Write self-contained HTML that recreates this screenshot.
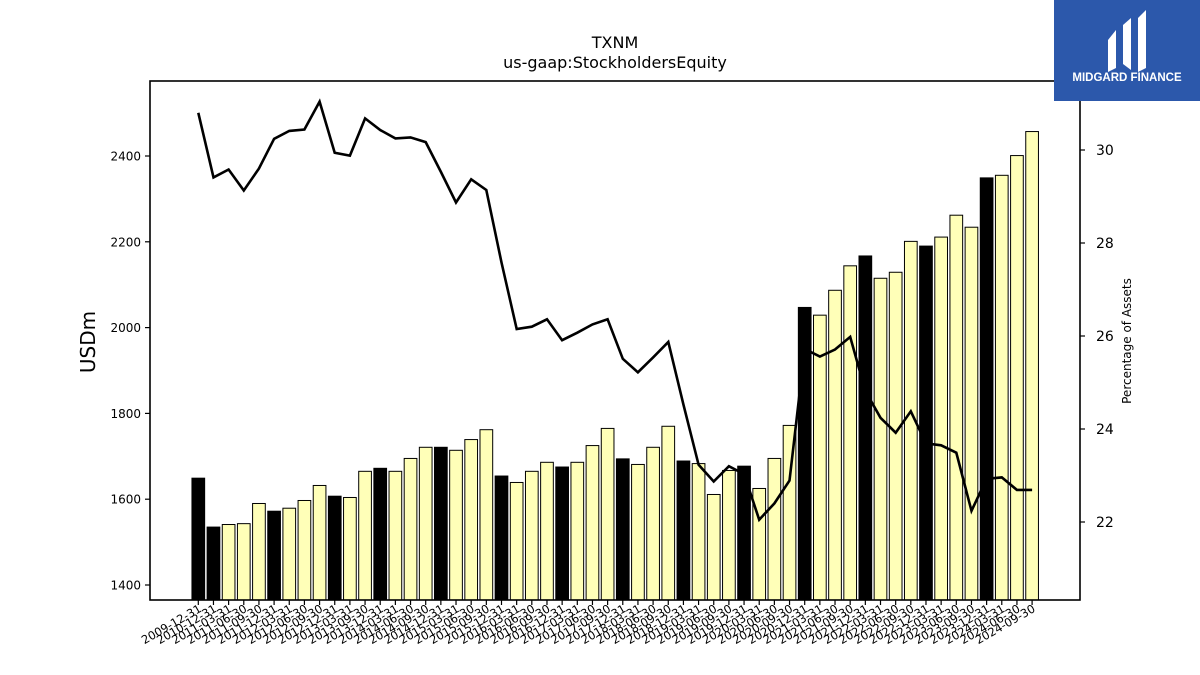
<!DOCTYPE html>
<html><head><meta charset="utf-8"><style>
html,body{margin:0;padding:0;background:#fff;}
svg{display:block;font-family:"DejaVu Sans","Liberation Sans",sans-serif;}
</style></head><body>
<svg id="chart" width="1200" height="675" viewBox="0 0 1200 675">
  <text x="615" y="48" text-anchor="middle" font-size="16">TXNM</text>
  <text x="615" y="68" text-anchor="middle" font-size="16">us-gaap:StockholdersEquity</text>
  <g id="bars"></g>
  <g id="line"></g>
  <rect x="150" y="81" width="930" height="519" fill="none" stroke="#000" stroke-width="1.6"/>
  <g id="yleft"></g>
  <g id="yright"></g>
  <g id="xaxis"></g>
  <text transform="translate(95,342) rotate(-90)" text-anchor="middle" font-size="20">USDm</text>
  <text transform="translate(1131,341) rotate(-90)" text-anchor="middle" font-size="12">Percentage of Assets</text>
  <g>
    <rect x="1054" y="0" width="146" height="101" fill="#2c58ab"/>
    <path d="M1108 40 L1116 30 L1116 68 L1108 72 Z" fill="#fff"/>
    <path d="M1123 25 L1131 18 L1131 70 L1123 64 Z" fill="#fff"/>
    <path d="M1138 18 L1146 10 L1146 68 L1138 72 Z" fill="#fff"/>
    <text x="1127" y="81" text-anchor="middle" font-size="11.5" font-weight="bold" fill="#fff" font-family="Liberation Sans, sans-serif">MIDGARD FINANCE</text>
  </g>
</svg>
<script>
const labels = ["2009-12-31","2010-12-31","2011-03-31","2011-06-30","2011-09-30","2011-12-31","2012-03-31","2012-06-30","2012-09-30","2012-12-31","2013-03-31","2013-09-30","2013-12-31","2014-03-31","2014-06-30","2014-09-30","2014-12-31","2015-03-31","2015-06-30","2015-09-30","2015-12-31","2016-03-31","2016-06-30","2016-09-30","2016-12-31","2017-03-31","2017-06-30","2017-09-30","2017-12-31","2018-03-31","2018-06-30","2018-09-30","2018-12-31","2019-03-31","2019-06-30","2019-09-30","2019-12-31","2020-03-31","2020-06-30","2020-09-30","2020-12-31","2021-03-31","2021-06-30","2021-09-30","2021-12-31","2022-03-31","2022-06-30","2022-09-30","2022-12-31","2023-03-31","2023-06-30","2023-09-30","2023-12-31","2024-03-31","2024-06-30","2024-09-30"];
const equity = [1649,1535,1541,1543,1590,1572,1579,1597,1632,1607,1604,1665,1672,1665,1695,1721,1721,1714,1739,1762,1654,1639,1665,1686,1675,1686,1725,1765,1694,1681,1721,1770,1689,1683,1611,1667,1677,1625,1695,1772,2047,2029,2087,2144,2167,2115,2129,2201,2190,2211,2262,2234,2349,2355,2401,2457];
const annual = [1,1,0,0,0,1,0,0,0,1,0,0,1,0,0,0,1,0,0,0,1,0,0,0,1,0,0,0,1,0,0,0,1,0,0,0,1,0,0,0,1,0,0,0,1,0,0,0,1,0,0,0,1,0,0,0];
const pctAssets = [30.80,29.41,29.58,29.13,29.60,30.24,30.41,30.44,31.04,29.94,29.88,30.68,30.43,30.25,30.27,30.17,29.53,28.87,29.37,29.14,27.58,26.15,26.20,26.36,25.91,26.07,26.25,26.36,25.51,25.22,25.54,25.87,24.53,23.23,22.87,23.20,23.03,22.05,22.40,22.89,25.72,25.56,25.71,25.98,24.82,24.24,23.92,24.38,23.69,23.65,23.49,22.24,22.93,22.96,22.69,22.69];
const leftTicks = [1400,1600,1800,2000,2200,2400];
const rightTicks = [22,24,26,28,30];

const NS="http://www.w3.org/2000/svg";
const x0=198.3, step=15.16, bw=12.7, base=600;
const xs = i => x0 + i*step;
const yL = v => 585 - (v-1400)*429/1000;
const yR = p => 522 - (p-22)*46.5;
function mk(tag, attrs, parent){const e=document.createElementNS(NS,tag);for(const k in attrs)e.setAttribute(k,attrs[k]);parent.appendChild(e);return e;}

const gb=document.getElementById('bars');
equity.forEach((v,i)=>{
  const t=yL(v);
  const r=mk('rect',{x:xs(i)-bw/2,y:t,width:bw,height:base-t,fill:annual[i]?'#000':'#ffffb8',stroke:'#000','stroke-width':1},gb);
  
  
});
const gl=document.getElementById('line');
const pl=mk('polyline',{points:pctAssets.map((p,i)=>xs(i).toFixed(1)+','+yR(p).toFixed(1)).join(' '),fill:'none',stroke:'#000','stroke-width':2.6,'stroke-linejoin':'miter'},gl);



const gy=document.getElementById('yleft');
leftTicks.forEach(v=>{
  const y=yL(v);
  mk('line',{x1:145,x2:150,y1:y,y2:y,stroke:'#000','stroke-width':1.2},gy);
  const t=mk('text',{x:141,y:y+4.5,'text-anchor':'end','font-size':12},gy);
  t.textContent=v;
  
  
});
const gr=document.getElementById('yright');
rightTicks.forEach(p=>{
  const y=yR(p);
  mk('line',{x1:1080,x2:1085,y1:y,y2:y,stroke:'#000','stroke-width':1.2},gr);
  const t=mk('text',{x:1096,y:y+5,'font-size':14},gr);
  t.textContent=p;
  
  
});
const gx=document.getElementById('xaxis');
labels.forEach((l,i)=>{
  const x=xs(i);
  mk('line',{x1:x,x2:x,y1:600,y2:605,stroke:'#000','stroke-width':1.2},gx);
  const t=mk('text',{transform:'translate('+(x+4)+',611) rotate(-30)','text-anchor':'end','font-size':11.5},gx);
  t.textContent=l;
  
  
});
</script>
</body></html>
